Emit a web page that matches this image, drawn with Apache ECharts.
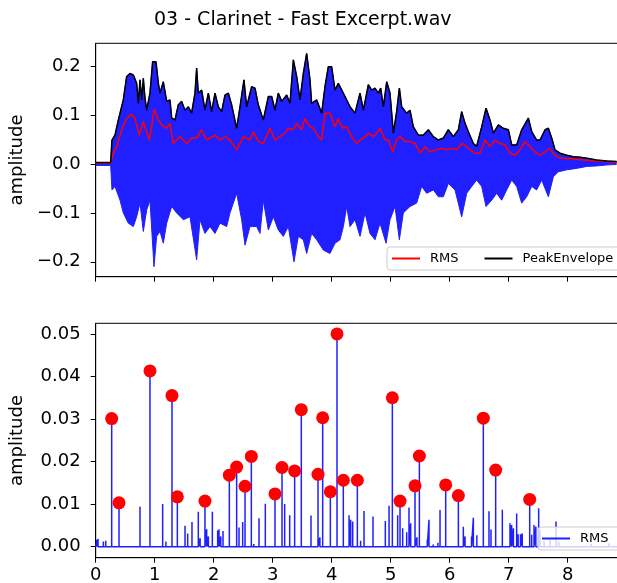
<!DOCTYPE html>
<html>
<head>
<meta charset="utf-8">
<script src="https://cdn.jsdelivr.net/npm/echarts@6/dist/echarts.min.js"></script>
<style>
  html, body { margin: 0; padding: 0; background: #fff; }
  #chart { width: 617px; height: 583px; }
</style>
</head>
<body>
<div id="chart"></div>
<script>
// time (s), amplitude pairs
const peakEnvelope = [
  [0, 0.003], [0.254, 0.003], [0.276, 0.049], [0.327, 0.059], [0.384, 0.090], [0.468, 0.131],
  [0.525, 0.179], [0.581, 0.185], [0.638, 0.182], [0.694, 0.165], [0.723, 0.124], [0.751, 0.172],
  [0.779, 0.131], [0.807, 0.175], [0.836, 0.134], [0.864, 0.110], [0.92, 0.145], [0.965, 0.209],
  [1.022, 0.209], [1.062, 0.165], [1.09, 0.145], [1.146, 0.168], [1.203, 0.128], [1.259, 0.131],
  [1.288, 0.094], [1.344, 0.090], [1.4, 0.121], [1.457, 0.128], [1.513, 0.110], [1.57, 0.117],
  [1.626, 0.104], [1.683, 0.145], [1.711, 0.196], [1.739, 0.145], [1.796, 0.151], [1.852, 0.110],
  [1.909, 0.145], [1.965, 0.107], [2.022, 0.145], [2.078, 0.117], [2.135, 0.107], [2.191, 0.141],
  [2.248, 0.145], [2.304, 0.121], [2.389, 0.073], [2.446, 0.117], [2.513, 0.172], [2.558, 0.117],
  [2.643, 0.158], [2.7, 0.155], [2.756, 0.121], [2.841, 0.090], [2.926, 0.138], [2.983, 0.138],
  [3.039, 0.110], [3.095, 0.145], [3.152, 0.128], [3.237, 0.141], [3.293, 0.124], [3.35, 0.213],
  [3.406, 0.179], [3.463, 0.131], [3.519, 0.185], [3.576, 0.226], [3.632, 0.172], [3.66, 0.124],
  [3.745, 0.131], [3.83, 0.104], [3.886, 0.158], [3.943, 0.199], [3.999, 0.199], [4.056, 0.151],
  [4.112, 0.165], [4.141, 0.168], [4.226, 0.138], [4.31, 0.117], [4.395, 0.104], [4.48, 0.145],
  [4.537, 0.110], [4.621, 0.162], [4.678, 0.151], [4.734, 0.155], [4.791, 0.145], [4.83, 0.155],
  [4.876, 0.117], [4.932, 0.168], [4.988, 0.145], [5.045, 0.063], [5.101, 0.107], [5.147, 0.155],
  [5.186, 0.117], [5.271, 0.104], [5.327, 0.110], [5.384, 0.076], [5.469, 0.059], [5.553, 0.059],
  [5.638, 0.070], [5.723, 0.056], [5.808, 0.049], [5.892, 0.053], [5.977, 0.070], [6.062, 0.056],
  [6.147, 0.070], [6.203, 0.107], [6.26, 0.083], [6.316, 0.066], [6.401, 0.042], [6.457, 0.036],
  [6.542, 0.076], [6.616, 0.114], [6.683, 0.090], [6.74, 0.063], [6.825, 0.080], [6.909, 0.073],
  [6.994, 0.070], [7.051, 0.039], [7.135, 0.039], [7.22, 0.070], [7.333, 0.094], [7.39, 0.066],
  [7.474, 0.049], [7.531, 0.049], [7.616, 0.070], [7.672, 0.073], [7.729, 0.053], [7.785, 0.029],
  [7.87, 0.022], [7.983, 0.018], [8.096, 0.015], [8.209, 0.014], [8.322, 0.012], [8.491, 0.008],
  [8.661, 0.006], [8.83, 0.005]
];

const waveLower = [
  [0, -0.003], [0.254, -0.003], [0.276, -0.053], [0.327, -0.046], [0.412, -0.074], [0.468, -0.1],
  [0.553, -0.121], [0.638, -0.128], [0.694, -0.108], [0.751, -0.08], [0.807, -0.138], [0.864, -0.094],
  [0.92, -0.074], [0.988, -0.21], [1.033, -0.148], [1.09, -0.138], [1.146, -0.162], [1.203, -0.121],
  [1.288, -0.087], [1.372, -0.1], [1.485, -0.114], [1.598, -0.108], [1.711, -0.196], [1.768, -0.114],
  [1.852, -0.142], [1.937, -0.128], [2.022, -0.142], [2.107, -0.121], [2.22, -0.128], [2.276, -0.1],
  [2.389, -0.06], [2.474, -0.114], [2.531, -0.166], [2.615, -0.128], [2.728, -0.128], [2.785, -0.142],
  [2.841, -0.074], [2.926, -0.135], [3.011, -0.108], [3.095, -0.135], [3.18, -0.148], [3.265, -0.128],
  [3.361, -0.2], [3.434, -0.148], [3.519, -0.155], [3.576, -0.183], [3.66, -0.142], [3.745, -0.155],
  [3.858, -0.176], [3.971, -0.183], [4.056, -0.162], [4.141, -0.155], [4.198, -0.128], [4.254, -0.087],
  [4.31, -0.128], [4.395, -0.114], [4.48, -0.148], [4.565, -0.1], [4.649, -0.142], [4.734, -0.155],
  [4.819, -0.121], [4.921, -0.162], [4.988, -0.114], [5.073, -0.087], [5.147, -0.155], [5.214, -0.1],
  [5.327, -0.087], [5.44, -0.08], [5.525, -0.046], [5.61, -0.06], [5.723, -0.053], [5.808, -0.067],
  [5.892, -0.067], [5.977, -0.04], [6.09, -0.053], [6.203, -0.108], [6.288, -0.06], [6.373, -0.046],
  [6.457, -0.033], [6.542, -0.046], [6.616, -0.087], [6.712, -0.074], [6.796, -0.06], [6.881, -0.074],
  [6.966, -0.053], [7.051, -0.033], [7.135, -0.046], [7.22, -0.08], [7.305, -0.067], [7.39, -0.046],
  [7.474, -0.053], [7.559, -0.033], [7.672, -0.067], [7.757, -0.026], [7.842, -0.016], [7.983, -0.012],
  [8.152, -0.009], [8.322, -0.005], [8.491, -0.004], [8.661, -0.002], [8.83, -0.001]
];

const rmsTop = [
  [0, 0.002], [0.254, 0.002], [0.299, 0.022], [0.355, 0.035], [0.44, 0.07], [0.525, 0.093],
  [0.61, 0.102], [0.666, 0.093], [0.739, 0.059], [0.807, 0.087], [0.864, 0.066], [0.909, 0.049],
  [0.994, 0.112], [1.062, 0.09], [1.118, 0.08], [1.203, 0.073], [1.259, 0.083], [1.316, 0.042],
  [1.429, 0.056], [1.542, 0.042], [1.626, 0.053], [1.711, 0.053], [1.796, 0.07], [1.881, 0.049],
  [2.022, 0.059], [2.107, 0.049], [2.191, 0.056], [2.276, 0.049], [2.389, 0.029], [2.502, 0.056],
  [2.615, 0.049], [2.672, 0.066], [2.756, 0.046], [2.841, 0.042], [2.954, 0.073], [3.039, 0.049],
  [3.124, 0.056], [3.208, 0.063], [3.265, 0.073], [3.35, 0.07], [3.406, 0.083], [3.491, 0.07],
  [3.547, 0.093], [3.632, 0.076], [3.689, 0.073], [3.773, 0.056], [3.83, 0.049], [3.886, 0.104],
  [3.971, 0.104], [4.056, 0.076], [4.112, 0.093], [4.141, 0.083], [4.198, 0.073], [4.254, 0.076],
  [4.339, 0.056], [4.424, 0.042], [4.48, 0.049], [4.565, 0.056], [4.621, 0.063], [4.706, 0.056],
  [4.763, 0.063], [4.819, 0.073], [4.904, 0.049], [4.96, 0.049], [5.034, 0.025], [5.101, 0.049],
  [5.158, 0.056], [5.243, 0.046], [5.327, 0.046], [5.412, 0.042], [5.497, 0.022], [5.582, 0.035],
  [5.666, 0.025], [5.779, 0.029], [5.864, 0.032], [5.949, 0.029], [6.034, 0.032], [6.118, 0.029],
  [6.203, 0.042], [6.26, 0.039], [6.344, 0.029], [6.429, 0.022], [6.514, 0.022], [6.599, 0.049],
  [6.683, 0.035], [6.768, 0.049], [6.853, 0.042], [6.938, 0.039], [7.022, 0.022], [7.107, 0.018],
  [7.192, 0.029], [7.277, 0.046], [7.361, 0.035], [7.446, 0.025], [7.531, 0.018], [7.616, 0.025],
  [7.689, 0.032], [7.785, 0.018], [7.87, 0.012], [8.096, 0.010], [8.378, 0.007], [8.661, 0.005],
  [8.83, 0.003]
];

// lower panel: detected peaks (red dots) and the remaining small spikes
const rmsPeaks = [
  [0.271, 0.0301], [0.395, 0.0103], [0.92, 0.0413], [1.293, 0.0355], [1.384, 0.0117], [1.852, 0.0107],
  [2.265, 0.0168], [2.389, 0.0187], [2.531, 0.0142], [2.638, 0.0212], [3.039, 0.0124], [3.158, 0.0186],
  [3.372, 0.0178], [3.485, 0.0322], [3.768, 0.0170], [3.847, 0.0303], [3.977, 0.0129], [4.09, 0.0500],
  [4.197, 0.0156], [4.435, 0.0156], [5.028, 0.0350], [5.158, 0.0107], [5.412, 0.0143], [5.486, 0.0213],
  [5.932, 0.0145], [6.147, 0.0120], [6.57, 0.0302], [6.779, 0.0180], [7.356, 0.0111]
];

const rmsSpikes = [
  [0.02, 0.0016], [0.04, 0.0018], [0.13, 0.0012], [0.17, 0.0014], [0.751, 0.0094], [1.135, 0.0100],
  [1.19, 0.0012], [1.514, 0.0049], [1.559, 0.0031], [1.632, 0.0058], [1.739, 0.0082], [1.77, 0.0020],
  [1.881, 0.0041], [1.91, 0.0024], [1.977, 0.0082], [2.067, 0.0038], [2.09, 0.0041], [2.12, 0.0024],
  [2.158, 0.0037], [2.429, 0.0045], [2.491, 0.0058], [2.68, 0.0006], [2.768, 0.0067], [2.875, 0.0101],
  [3.203, 0.0100], [3.288, 0.0074], [3.649, 0.0073], [3.8, 0.0022], [4.294, 0.0074], [4.322, 0.0063],
  [4.356, 0.0059], [4.49, 0.0014], [4.548, 0.0084], [4.7, 0.0071], [4.909, 0.0060], [4.972, 0.0096],
  [5.118, 0.0074], [5.203, 0.0043], [5.271, 0.0034], [5.31, 0.0092], [5.339, 0.0055], [5.445, 0.0022],
  [5.62, 0.0016], [5.649, 0.0063], [5.72, 0.0005], [5.8, 0.0009], [5.836, 0.0086], [6.231, 0.0047],
  [6.26, 0.0024], [6.37, 0.0024], [6.401, 0.0068], [6.46, 0.0027], [6.666, 0.0083], [6.7, 0.0040],
  [6.892, 0.0087], [7.022, 0.0055], [7.05, 0.0051], [7.08, 0.0043], [7.135, 0.0078], [7.16, 0.0029],
  [7.2, 0.0029], [7.23, 0.0031], [7.39, 0.0028], [7.429, 0.0051], [7.46, 0.0047], [7.508, 0.0090],
  [7.53, 0.0039], [7.6, 0.0012], [7.7, 0.0016], [7.802, 0.0059], [7.85, 0.0012], [8.4, 0.0006],
  [8.7, 0.0008]
];

const xTicks = [0, 1, 2, 3, 4, 5, 6, 7, 8];
const yTicksTop = [-0.2, -0.1, 0.0, 0.1, 0.2];
const yTicksBottom = [0.00, 0.01, 0.02, 0.03, 0.04, 0.05];

const BLUE = '#1f1fff';
const FONT = 'DejaVu Sans';

// spikes drawn as a single line that returns to zero after every spike
const spikeLine = (() => {
  const all = rmsPeaks.concat(rmsSpikes).sort((a, b) => a[0] - b[0]);
  const out = [[0, 0]];
  all.forEach(p => { out.push([p[0], 0], p, [p[0], 0]); });
  out.push([9, 0]);
  return out;
})();

const fmtSigned = d => v => (v < 0 ? '\u2212' : '') + Math.abs(v).toFixed(d);

const axisCommon = {
  axisLine: { show: true, onZero: false, lineStyle: { color: '#000', width: 1 } },
  axisTick: { show: true, inside: false, length: 5, lineStyle: { color: '#000', width: 1 } },
  splitLine: { show: false }
};

var myChart = echarts.init(document.getElementById('chart'), null, { renderer: 'canvas' });

const legendBox = {
  icon: 'rect', itemWidth: 28, itemHeight: 2,
  orient: 'horizontal', width: 400,
  backgroundColor: 'rgba(255,255,255,0.8)',
  borderColor: '#cccccc', borderWidth: 1, borderRadius: 3,
  selectedMode: false,
  textStyle: { fontFamily: FONT, fontSize: 13, color: '#000', lineHeight: 15, padding: [0, 0, 0, 5] }
};

const option = {
  animation: false,
  backgroundColor: '#fff',
  title: {
    text: '03 - Clarinet - Fast Excerpt.wav',
    left: 154,
    top: 11,
    padding: 0,
    textStyle: { fontFamily: FONT, fontSize: 19, fontWeight: 'normal', color: '#000' }
  },
  legend: [
    Object.assign({}, legendBox, {
      data: [
        { name: 'RMS', itemStyle: { color: '#ff0000' } },
        { name: 'PeakEnvelope', itemStyle: { color: '#000' } }
      ],
      left: 387, top: 247, itemGap: 26,
      padding: [4, 8, 4, 5]
    }),
    Object.assign({}, legendBox, {
      data: [{ name: 'RMS', itemStyle: { color: BLUE } }],
      left: 538, top: 527,
      padding: [4, 12, 4, 4]
    })
  ],
  grid: [
    { left: 95.7, top: 43.3, width: 531, height: 233.4, show: true, borderColor: '#000', borderWidth: 1, outerBoundsMode: 'none' },
    { left: 95.7, top: 323.3, width: 531, height: 234.4, show: true, borderColor: '#000', borderWidth: 1, outerBoundsMode: 'none' }
  ],
  xAxis: [
    Object.assign({}, axisCommon, {
      type: 'value', gridIndex: 0, min: 0, max: 9, interval: 1,
      axisLabel: { show: false }
    }),
    Object.assign({}, axisCommon, {
      type: 'value', gridIndex: 1, min: 0, max: 9, interval: 1,
      axisLabel: {
        show: true, margin: 9, color: '#000', fontFamily: FONT, fontSize: 18,
        formatter: v => (xTicks.indexOf(v) >= 0 ? String(v) : '')
      }
    })
  ],
  yAxis: [
    Object.assign({}, axisCommon, {
      type: 'value', gridIndex: 0, min: -0.2305, max: 0.2468,
      name: 'amplitude', nameLocation: 'middle', nameGap: 69, nameRotate: 90,
      nameTextStyle: { fontFamily: FONT, fontSize: 18, color: '#000' },
      axisTick: Object.assign({}, axisCommon.axisTick, { customValues: yTicksTop }),
      axisLabel: {
        customValues: yTicksTop, margin: 15, color: '#000', fontFamily: FONT, fontSize: 18,
        formatter: fmtSigned(1)
      }
    }),
    Object.assign({}, axisCommon, {
      type: 'value', gridIndex: 1, min: -0.0026, max: 0.0525,
      name: 'amplitude', nameLocation: 'middle', nameGap: 69, nameRotate: 90,
      nameTextStyle: { fontFamily: FONT, fontSize: 18, color: '#000' },
      axisTick: Object.assign({}, axisCommon.axisTick, { customValues: yTicksBottom }),
      axisLabel: {
        customValues: yTicksBottom, margin: 15, color: '#000', fontFamily: FONT, fontSize: 18,
        formatter: fmtSigned(2)
      }
    })
  ],
  series: [
    {
      name: 'waveform', type: 'line', xAxisIndex: 0, yAxisIndex: 0,
      data: peakEnvelope, showSymbol: false, silent: true,
      lineStyle: { color: BLUE, width: 1 }, itemStyle: { color: BLUE },
      areaStyle: { color: BLUE, opacity: 1 }
    },
    {
      name: 'waveformLow', type: 'line', xAxisIndex: 0, yAxisIndex: 0,
      data: waveLower, showSymbol: false, silent: true,
      lineStyle: { color: BLUE, width: 1 }, itemStyle: { color: BLUE },
      areaStyle: { color: BLUE, opacity: 1 }
    },
    {
      name: 'RMS', type: 'line', xAxisIndex: 0, yAxisIndex: 0,
      data: rmsTop, showSymbol: false,
      lineStyle: { color: '#ff0000', width: 1.5 }, itemStyle: { color: '#ff0000' }
    },
    {
      name: 'PeakEnvelope', type: 'line', xAxisIndex: 0, yAxisIndex: 0,
      data: peakEnvelope, showSymbol: false,
      lineStyle: { color: '#000', width: 1.5 }, itemStyle: { color: '#000' }
    },
    {
      name: 'RMS', type: 'line', xAxisIndex: 1, yAxisIndex: 1,
      data: spikeLine, showSymbol: false,
      lineStyle: { color: BLUE, width: 1.5 }, itemStyle: { color: BLUE }
    },
    {
      name: 'peaks', type: 'scatter', xAxisIndex: 1, yAxisIndex: 1,
      data: rmsPeaks, symbol: 'circle', symbolSize: 13,
      itemStyle: { color: '#ff0000', opacity: 1 }, z: 3
    }
  ]
};
myChart.setOption(option);
</script>
</body>
</html>
